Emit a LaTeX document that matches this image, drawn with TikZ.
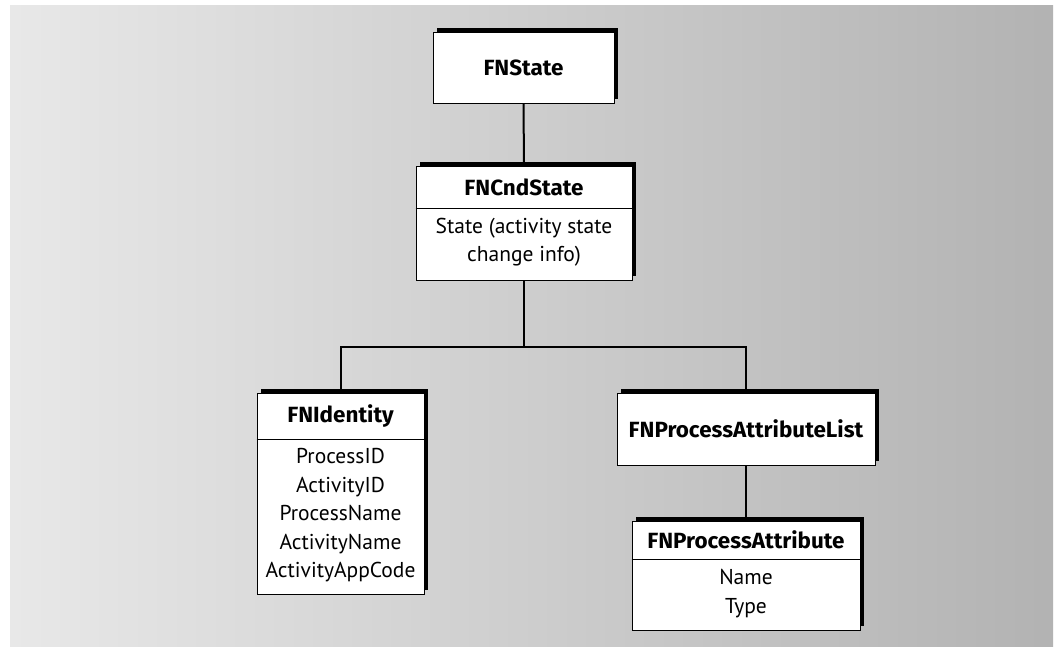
\documentclass[tikz,border=0pt]{standalone}
\usepackage{fontspec}
\setmainfont{PT Sans}
\newfontfamily\titlefont[FakeStretch=1.02]{Fira Sans}
\usetikzlibrary{shadows}
\begin{document}
\begin{tikzpicture}[x=1pt,y=-1pt,
  classbox/.style={draw=black, line width=1pt, fill=white, inner sep=0pt,
    general shadow={fill=black, shadow xshift=4pt, shadow yshift=4pt}},
  title/.style={font=\titlefont\fontsize{22}{26}\selectfont\bfseries, inner sep=0pt},
  attrs/.style={font=\fontsize{21.5}{28.5}\selectfont, align=center, inner sep=0pt},
  link/.style={line width=2pt}]
  \useasboundingbox (0,0) rectangle (1057,646);
  % gradient panel
  \shade[left color=black!9, right color=black!30] (10,5) rectangle (1053,646);

  % class boxes
  \node[classbox, minimum width=181pt, minimum height=71pt] (st) at (523.5,67.5) {};
  \node[title] (stT) at (st.center) {FNState};

  \node[classbox, minimum width=216pt, minimum height=114pt] (cnd) at (524,223) {};
  \node[title] (cndT) at (524,187) {FNCndState};
  \node[attrs] (cndA) at (524,242) {State (activity state\\change info)};
  \draw[line width=1pt] (cnd.west |- 0,208) -- (cnd.east |- 0,208);

  \node[classbox, minimum width=167pt, minimum height=201pt] (idn) at (340.5,493.5) {};
  \node[title] (idnT) at (340.5,416) {FNIdentity};
  \node[attrs] (idnA) at (340.5,515.5) {ProcessID\\ActivityID\\ProcessName\\ActivityName\\ActivityAppCode};
  \draw[line width=1pt] (idn.west |- 0,439) -- (idn.east |- 0,439);

  \node[classbox, minimum width=258pt, minimum height=72pt] (pal) at (746,429) {};
  \node[title] (palT) at (pal.center) {FNProcessAttributeList};

  \node[classbox, minimum width=228pt, minimum height=109pt] (pa) at (746,575.5) {};
  \node[title] (paT) at (746,540) {FNProcessAttribute};
  \node[attrs] (paA) at (746,593.5) {Name\\Type};
  \draw[line width=1pt] (pa.west |- 0,559) -- (pa.east |- 0,559);

  % connectors
  \coordinate (bus) at (524,347);
  \draw[link] (st.south) -- (cnd.north);
  \draw[link] (cnd.south) -- (bus);
  \draw[link] (idn.north) |- (bus) -| (pal.north);
  \draw[link] (pal.south) -- (pa.north);
\end{tikzpicture}
\end{document}
